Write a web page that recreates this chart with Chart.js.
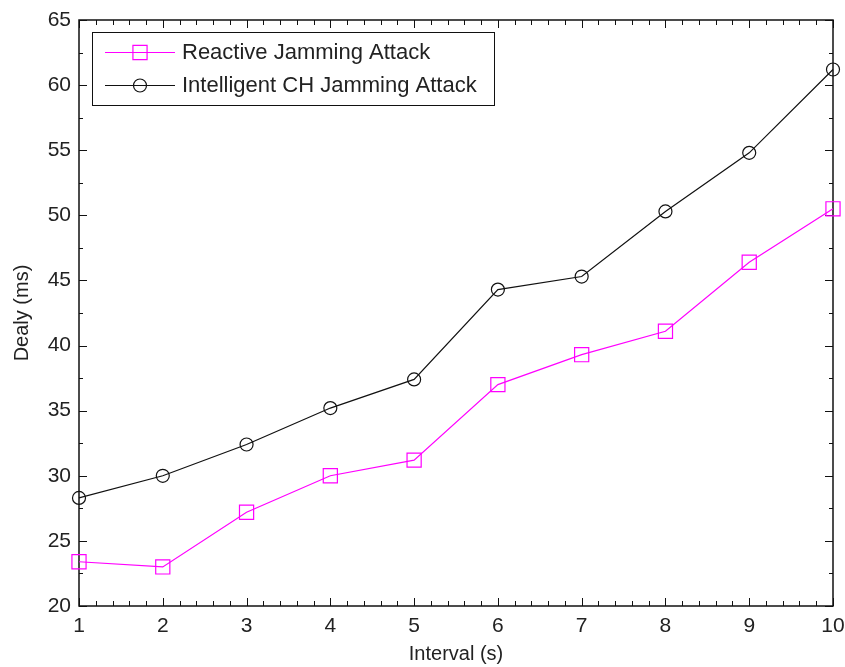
<!DOCTYPE html>
<html>
<head>
<meta charset="utf-8">
<script src="https://cdn.jsdelivr.net/npm/chart.js@4"></script>
<style>
  body { margin: 0; background: #fff; }
  canvas { display: block; }
</style>
</head>
<body>
<canvas id="delayChart" width="845" height="667"></canvas>
<script>
// Data
const intervals = [1, 2, 3, 4, 5, 6, 7, 8, 9, 10];
const reactiveDelay = [23.4, 23.0, 27.2, 30.0, 31.2, 37.0, 39.3, 41.1, 46.4, 50.5];
const intelligentDelay = [28.3, 30.0, 32.4, 35.2, 37.4, 44.3, 45.3, 50.3, 54.8, 61.2];
const seriesNames = ["Reactive Jamming Attack", "Intelligent CH Jamming Attack"];

const FONT = "Arial, 'Liberation Sans', sans-serif";
const TEXT = "#222";

function toPoints(ys) {
  return intervals.map((x, i) => ({ x: x, y: ys[i] }));
}

// MATLAB style box with inward ticks on every side
const boxTicks = {
  id: 'boxTicks',
  beforeDatasetsDraw(chart) {
    const { ctx, chartArea: a, scales } = chart;
    const xs = scales.x, ys = scales.y;
    ctx.save();
    ctx.strokeStyle = "#111";
    ctx.lineWidth = 1;
    ctx.beginPath();
    // x ticks: major every 1, minor every 0.2
    for (let i = 0; i <= 45; i++) {
      const v = 1 + i * 0.2;
      const px = Math.round(xs.getPixelForValue(v)) + 0.5;
      const len = i % 5 === 0 ? 8 : 5;
      ctx.moveTo(px, a.bottom); ctx.lineTo(px, a.bottom - len);
      ctx.moveTo(px, a.top); ctx.lineTo(px, a.top + len);
    }
    // y ticks: major every 5, minor every 2.5
    for (let i = 0; i <= 18; i++) {
      const v = 20 + i * 2.5;
      const py = Math.round(ys.getPixelForValue(v)) + 0.5;
      const len = i % 2 === 0 ? 8 : 4;
      ctx.moveTo(a.left, py); ctx.lineTo(a.left + len, py);
      ctx.moveTo(a.right, py); ctx.lineTo(a.right - len, py);
    }
    ctx.stroke();
    ctx.lineWidth = 1.5;
    ctx.strokeRect(Math.round(a.left), Math.round(a.top), Math.round(a.right - a.left), Math.round(a.bottom - a.top));
    ctx.restore();
  },
  afterDatasetsDraw(chart) {
    // legend box in the upper left corner of the axes
    const { ctx } = chart;
    const bx = 92, by = 32, bw = 402, bh = 73;
    ctx.save();
    ctx.fillStyle = "#fff";
    ctx.fillRect(bx, by, bw, bh);
    ctx.strokeStyle = "#111";
    ctx.lineWidth = 1;
    ctx.strokeRect(bx + 0.5, by + 0.5, bw, bh);
    const rows = [by + 20, by + 53];
    chart.data.datasets.forEach((ds, i) => {
      const y = rows[i];
      ctx.strokeStyle = ds.borderColor;
      ctx.lineWidth = 1.2;
      ctx.beginPath();
      ctx.moveTo(105, y + 0.5); ctx.lineTo(175, y + 0.5);
      ctx.stroke();
      ctx.fillStyle = "rgba(0,0,0,0)";
      Chart.helpers.drawPoint(ctx, {
        pointStyle: ds.pointStyle, radius: ds.pointRadius, borderWidth: 1.2
      }, 140, y + 0.5);
      ctx.fillStyle = TEXT;
      ctx.font = "22px " + FONT;
      ctx.textBaseline = "middle";
      ctx.textAlign = "left";
      ctx.fillText(ds.label, 182, y + 1);
    });
    ctx.restore();
  }
};

const ctx = document.getElementById('delayChart').getContext('2d');

new Chart(ctx, {
  type: 'line',
  data: {
    datasets: [{
      label: seriesNames[0],
      data: toPoints(reactiveDelay),
      borderColor: "#ff00ff",
      backgroundColor: "rgba(0,0,0,0)",
      pointStyle: 'rect',
      pointRadius: 10,
      pointBorderWidth: 1.2,
      borderWidth: 1.2,
      tension: 0,
      clip: false
    }, {
      label: seriesNames[1],
      data: toPoints(intelligentDelay),
      borderColor: "#111111",
      backgroundColor: "rgba(0,0,0,0)",
      pointStyle: 'circle',
      pointRadius: 6.5,
      pointBorderWidth: 1.2,
      borderWidth: 1.2,
      tension: 0,
      clip: false
    }]
  },
  options: {
    responsive: false,
    animation: false,
    layout: { padding: { top: 20, right: 12, left: 0, bottom: 0 } },
    plugins: {
      legend: { display: false },
      tooltip: { enabled: false }
    },
    scales: {
      x: {
        type: 'linear',
        min: 1, max: 10,
        grid: { display: false, drawTicks: false },
        border: { display: false },
        ticks: { stepSize: 1, color: TEXT, font: { size: 21, family: FONT }, padding: 8, maxRotation: 0 },
        title: { display: true, text: "Interval (s)", color: TEXT, font: { size: 20, family: FONT }, padding: { top: 0, bottom: 1 } },
        afterFit(s) { s.height = 61; s.paddingLeft = 0; s.paddingRight = 0; }
      },
      y: {
        min: 20, max: 65,
        grid: { display: false, drawTicks: false },
        border: { display: false },
        ticks: { stepSize: 5, color: TEXT, font: { size: 21, family: FONT }, padding: 8 },
        title: { display: true, text: "Dealy (ms)", color: TEXT, font: { size: 20, family: FONT }, padding: { top: 10, bottom: 0 } },
        afterFit(s) { s.width = 79; s.paddingTop = 0; s.paddingBottom = 0; }
      }
    }
  },
  plugins: [boxTicks]
});
</script>
</body>
</html>
